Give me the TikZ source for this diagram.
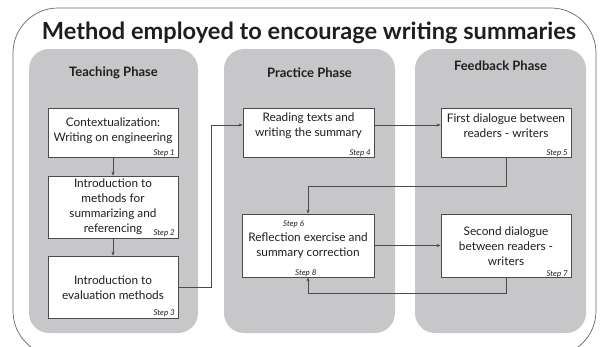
\documentclass[tikz,border=0pt]{standalone}
\usepackage{fontspec}
\setmainfont{Lato}
\usepackage{tikz}
\usetikzlibrary{arrows.meta}
\definecolor{panelgray}{RGB}{199,199,202}
\definecolor{linegray}{RGB}{75,75,75}
\definecolor{inkgray}{RGB}{30,30,30}
\tikzset{
  font={\fontsize{11.8pt}{15pt}\selectfont},
  stepbox/.style={draw=linegray, fill=white, line width=0.8pt, minimum width=130pt, inner sep=0pt},
  boxtext/.style={align=center, inner sep=0pt, text=inkgray},
  steplbl/.style={font={\fontsize{8pt}{9pt}\selectfont\itshape}, inner sep=0pt, text=inkgray},
  phasetitle/.style={font={\fontsize{13pt}{14pt}\selectfont\bfseries}, inner sep=0pt, text=inkgray},
  link/.style={draw=linegray, line width=0.6pt, -{Stealth[length=4pt,width=3pt]}}}

\begin{document}
\begin{tikzpicture}[x=1pt,y=1pt]
\useasboundingbox (0,0) rectangle (600,-346);
% outer frame
\begin{scope}
\clip (0,0) rectangle (600,-346);
\draw [black!60, line width=0.7pt, rounded corners=45pt] (13,-8) rectangle (596,-356);
\end{scope}
\node [inner sep=0pt, text=inkgray, font={\fontsize{23.6pt}{26pt}\selectfont\bfseries}] (title) at (309,-33) {Method employed to encourage writing summaries};
% phases
\fill [panelgray, rounded corners=20pt] (29,-49) rectangle (198,-333);
\fill [panelgray, rounded corners=20pt] (224,-49) rectangle (395,-333);
\fill [panelgray, rounded corners=20pt] (415,-49) rectangle (586,-333);
\node [phasetitle] (teach) at (113.5,-73) {Teaching Phase};
\node [phasetitle] (practice) at (309.5,-73) {Practice Phase};
\node [phasetitle] (feedback) at (500.5,-66) {Feedback Phase};
% boxes
\node [stepbox, minimum height=49pt] (s1) at (113,-132.5) {};
\node [stepbox, minimum height=62pt] (s2) at (113,-207) {};
\node [stepbox, minimum height=62pt] (s3) at (113,-287) {};
\node [stepbox, minimum height=49pt, minimum width=131pt] (s4) at (308.5,-132.5) {};
\node [stepbox, minimum height=63pt, minimum width=132pt] (s8) at (308,-245.5) {};
\node [stepbox, minimum height=49pt] (s5) at (506,-132.5) {};
\node [stepbox, minimum height=63pt] (s7) at (506,-245.5) {};
% texts
\node [boxtext] (t1) at (113,-130.5) {Contextualization:\\Writing on engineering};
\node [boxtext] (t2) at (113,-206.5) {Introduction to\\methods for\\summarizing and\\referencing};
\node [boxtext] (t3) at (113,-287.5) {Introduction to\\evaluation methods};
\node [boxtext] (t4) at (308.5,-126) {Reading texts and\\writing the summary};
\node [boxtext] (t8) at (308,-246) {Reflection exercise and\\summary correction};
\node [boxtext] (t5) at (506,-126) {First dialogue between\\readers - writers};
\node [boxtext] (t7) at (506,-246.5) {Second dialogue\\between readers -\\writers};
% step labels
\node [steplbl, anchor=base east] (l1) at (175,-155) {Step 1};
\node [steplbl, anchor=base east] (l2) at (175,-235) {Step 2};
\node [steplbl, anchor=base east] (l3) at (175,-315) {Step 3};
\node [steplbl, anchor=base east] (l4) at (371,-155) {Step 4};
\node [steplbl, anchor=base east] (l5) at (568,-155) {Step 5};
\node [steplbl, anchor=base west] (l6) at (283,-226) {Step 6};
\node [steplbl, anchor=base east] (l7) at (568,-276) {Step 7};
\node [steplbl, anchor=base west] (l8) at (295,-275) {Step 8};
% connectors
\coordinate (up) at (211,-125);
\draw [link] (s1.south) -- (s2.north);
\draw [link] (s2.south) -- (s3.north);
\draw [link] (s3.east) -| (up) -- (up -| s4.west);
\draw [link] ([yshift=7.5pt]s4.east) -- ([yshift=7.5pt]s5.west);
\draw [link] (s5.south) -- ++(0,-29) -| (s8.north);
\draw [link] (s8.east) -- (s7.west);
\draw [link] (s7.south) -- ++(0,-16) -| (s8.south);
\end{tikzpicture}
\end{document}
